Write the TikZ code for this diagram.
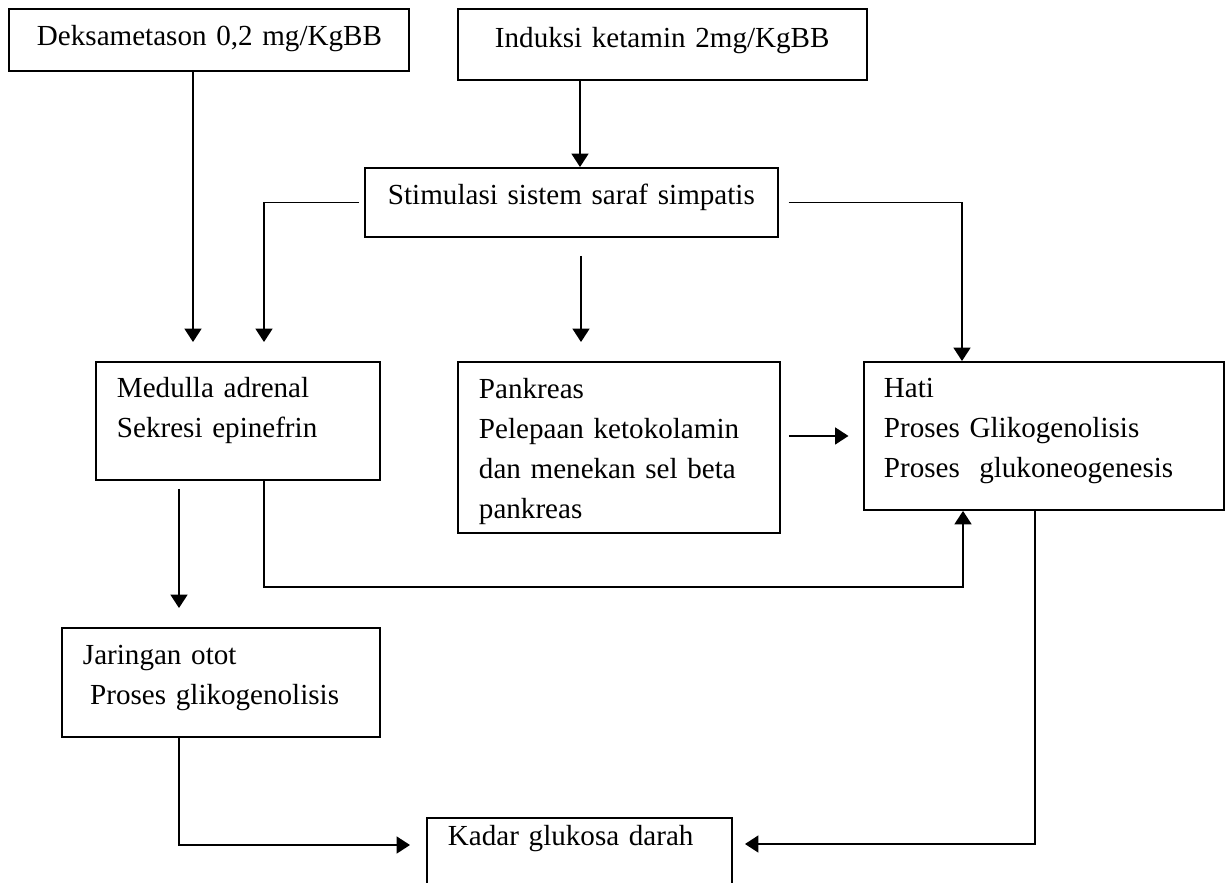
\documentclass[tikz,border=0pt]{standalone}
\usepackage{fontspec}
\setmainfont{Liberation Serif}
\usetikzlibrary{arrows.meta}

\newlength{\satuan}
\setlength{\satuan}{0.4125pt}

\tikzset{
  blok/.style={draw, line width=0.8pt, anchor=north west, align=left, inner ysep=0pt,
    font=\fontsize{12pt}{16.5pt}\selectfont},
  panah/.style={line width=0.6pt, -{Triangle[width=7pt,length=5.5pt]}}
}

\begin{document}
\begin{tikzpicture}[x=0.4125pt,y=-0.4125pt]
  \useasboundingbox (0,0) rectangle (1225,882);
  \clip (0,0) rectangle (1225,882);

  % kotak
  \node[blok, inner xsep=28\satuan, text width=344\satuan, text height=37\satuan, text depth=25\satuan]
    (dek) at (8,8) {Deksametason~0,2~mg/KgBB};
  \node[blok, inner xsep=37\satuan, text width=335\satuan, text height=39\satuan, text depth=32\satuan]
    (ind) at (457,8) {Induksi~ketamin~2mg/KgBB};
  \node[blok, inner xsep=23\satuan, text width=367\satuan, text height=37\satuan, text depth=32\satuan]
    (stim) at (364,167) {Stimulasi~sistem~saraf~simpatis};
  \node[blok, inner xsep=21\satuan, text width=242\satuan, text height=36\satuan, text depth=82\satuan]
    (med) at (95,361) {Medulla adrenal\\Sekresi epinefrin};
  \node[blok, inner xsep=21\satuan, text width=280\satuan, text height=37\satuan, text depth=134\satuan]
    (pan) at (457,361) {Pankreas\\Pelepaan ketokolamin\\dan menekan sel beta\\pankreas};
  \node[blok, inner xsep=20\satuan, text width=320\satuan, text height=36\satuan, text depth=112\satuan]
    (hati) at (863,361) {Hati\\Proses Glikogenolisis\\Proses\ \ glukoneogenesis};
  \node[blok, inner xsep=21\satuan, text width=276\satuan, text height=37\satuan, text depth=72\satuan]
    (jar) at (61,627) {Jaringan otot\\\hspace*{0.25em}Proses glikogenolisis};
  \node[blok, inner xsep=21\satuan, text width=263\satuan, text height=28\satuan, text depth=60\satuan]
    (kadar) at (426,817) {Kadar glukosa darah};

  % titik bantu
  \coordinate (ujungA) at (193,342);
  \coordinate (ujungB) at (264,342);
  \coordinate (ujungC) at (581,342);
  \coordinate (ujungD) at (179,608);
  \coordinate (ujungE) at (410,845);
  \coordinate (ujungF) at (745,844);
  \coordinate (belokA) at (264,587);
  \coordinate (garisX) at (580,0);
  \coordinate (hatiX) at (962,0);
  \coordinate (hatiY) at (963,0);
  \coordinate (hatiZ) at (1035,0);

  % panah
  \draw[panah] (dek.south -| ujungA) -- (ujungA);
  \draw[panah] (ind.south -| garisX) -- (stim.north -| garisX);
  \draw[panah, shorten <=2pt] (stim.west) -| (ujungB);
  \draw[panah, shorten <=7.4pt] (stim.south -| ujungC) -- (ujungC);
  \draw[panah, shorten <=4pt] (stim.east) -| (hatiX |- hati.north);
  \draw[panah, shorten <=3.3pt, shorten >=6pt] (pan.east |- hati.west) -- (hati.west);
  \draw[panah, shorten <=3.3pt] (med.south -| ujungD) -- (ujungD);
  \draw[panah] (med.south -| belokA) -- (belokA) -| (hatiY |- hati.south);
  \draw[panah] (jar.south -| ujungD) |- (ujungE);
  \draw[panah] (hati.south -| hatiZ) |- (ujungF);
\end{tikzpicture}
\end{document}
